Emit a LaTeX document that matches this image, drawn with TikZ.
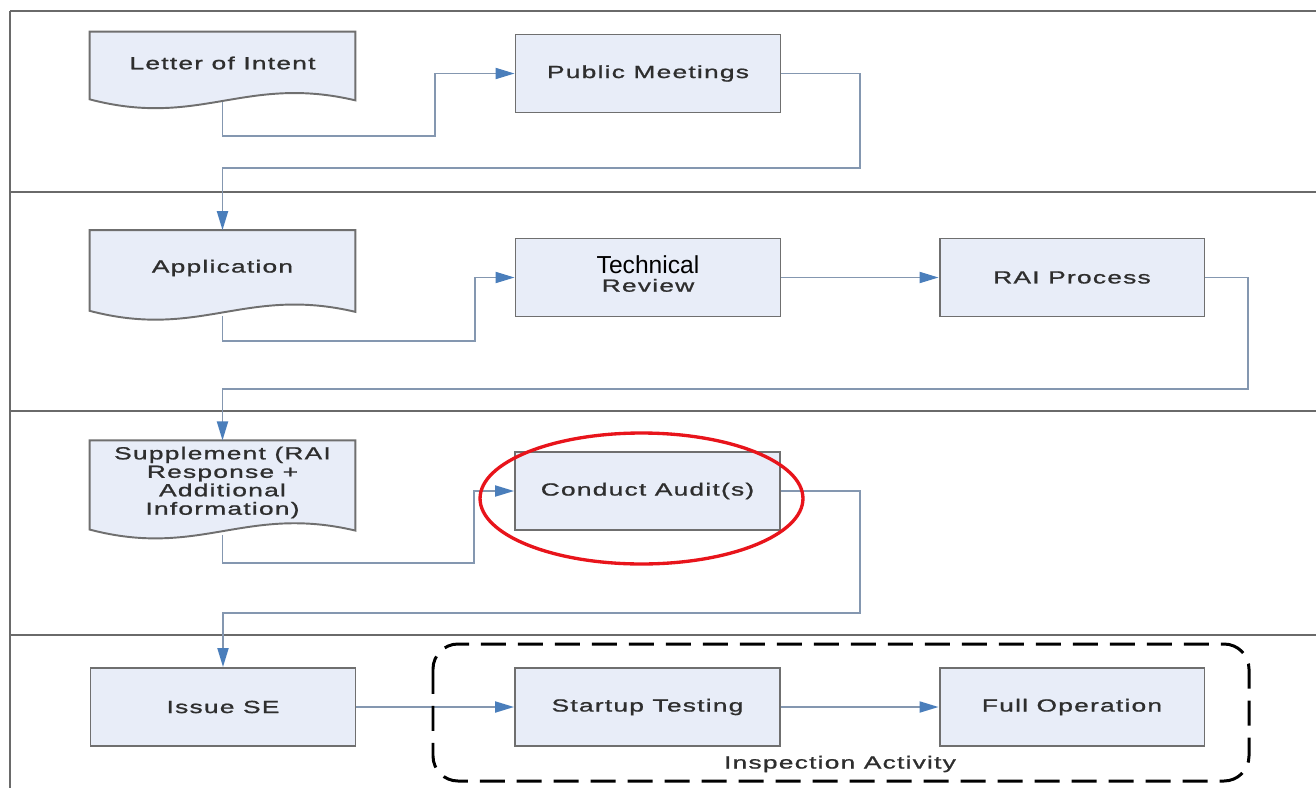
\documentclass[tikz,border=0pt]{standalone}
\usepackage{fontspec}
\setmainfont{Liberation Sans}
\newfontfamily\boxfont[FakeStretch=1.5,LetterSpace=7,FakeBold=1.1]{Liberation Sans}
\newfontfamily\techfont{Liberation Sans}
\usetikzlibrary{arrows.meta,calc,backgrounds}

\definecolor{boxfill}{HTML}{E8EDF8}
\definecolor{boxline}{HTML}{6F6F6F}
\definecolor{flowline}{HTML}{8497B0}
\definecolor{tipblue}{HTML}{4A7EBB}
\definecolor{laneline}{HTML}{6A6A6A}
\definecolor{textgray}{HTML}{2E2E2E}
\definecolor{ringred}{HTML}{E8141B}

\newcommand{\boxtext}{\boxfont\fontsize{10}{10.5}\selectfont}
% wavy bottom of a document node
\newcommand{\docoutline}[1]{%
  \filldraw[docshape] (#1.north west) -- (#1.north east) -- ($(#1.south east)+(0,6)$)
    .. controls ($(#1.south east)+(-110,-20)$) and ($(#1.south west)+(110,34)$) .. ($(#1.south west)+(0,5)$) -- cycle;}

\begin{document}
\begin{tikzpicture}[x=0.02cm, y=-0.02cm,
  stepbox/.style={draw=boxline, fill=boxfill, line width=1.1pt, minimum width=5.3cm,
    minimum height=1.56cm, font=\boxtext, text=textgray, align=center},
  docbox/.style={minimum width=5.3cm, font=\boxtext, text=textgray, align=center},
  docshape/.style={draw=boxline, fill=boxfill, line width=1.1pt},
  flow/.style={draw=flowline, line width=1.1pt, -{Triangle[length=0.38cm,width=0.22cm,color=tipblue]}},
  lane/.style={draw=laneline, line width=1.3pt},
  inspect/.style={draw=black, line width=1.7pt, dash pattern=on 0.5cm off 0.24cm, rounded corners=0.5cm},
  redring/.style={draw=ringred, line width=1.9pt}]
\useasboundingbox (0,0) rectangle (1316,788);

% lanes
\draw[lane] (10,11) -- (1316,11);
\draw[lane] (10,11) -- (10,788);
\foreach \y in {192,411,635}
  \draw[lane] (10,\y) -- (1316,\y);

% documents
\node[docbox, minimum height=1.24cm] (loi) at (222.5,63) {Letter of Intent};
\node[docbox, minimum height=1.5cm] (app) at (222.5,268) {Application};
\node[docbox, minimum height=1.62cm] (supp) at (222.5,482.5) {Supplement (RAI\\Response +\\Additional\\Information)};
\begin{scope}[on background layer]
  \docoutline{loi}
  \docoutline{app}
  \docoutline{supp}
\end{scope}

% process steps
\node[stepbox] (pub) at (648,73.5) {Public Meetings};
\node[stepbox] (tech) at (648,277.5) {{\techfont\fontsize{14}{14}\selectfont\color{black}Technical}\\Review\\[-6pt]\mbox{}};
\node[stepbox] (rai) at (1072,277.5) {RAI Process};
\node[stepbox] (audit) at (647.5,491) {Conduct Audit(s)};
\node[stepbox] (issue) at (223,707) {Issue SE};
\node[stepbox] (startup) at (647.5,707) {Startup Testing};
\node[stepbox] (fullop) at (1072,707) {Full Operation};

% connectors
\draw[flow] ($(loi.south)+(0,8)$) -- ++(0,34) -| ($(pub.west)+(-80,0)$) -- (pub.west);
\draw[flow] (pub.east) -- ++(79,0) |- ($(app.north)+(0,-62)$) -- (app.north);
\draw[flow] ($(app.south)+(0,10)$) -- ++(0,25) -| ($(tech.west)+(-40,0)$) -- (tech.west);
\draw[flow] (tech.east) -- (rai.west);
\draw[flow] (rai.east) -- ++(43,0) |- ($(supp.north)+(0,-51)$) -- (supp.north);
\draw[flow] ($(supp.south)+(0,10)$) -- ++(0,28) -| ($(audit.west)+(-40,0)$) -- (audit.west);
\draw[flow] (audit.east) -- ++(79,0) |- ($(issue.north)+(0,-54)$) -- (issue.north);
\draw[flow] (issue.east) -- (startup.west);
\draw[flow] (startup.east) -- (fullop.west);

% inspection group
\draw[inspect] (433,644) rectangle (1249,781);
\node[font=\boxtext, text=textgray] (inspectlabel) at (840,764) {Inspection Activity};

% highlight
\draw[redring] (641.5,498.5) ellipse [x radius=3.23cm, y radius=1.31cm];
\end{tikzpicture}
\end{document}
